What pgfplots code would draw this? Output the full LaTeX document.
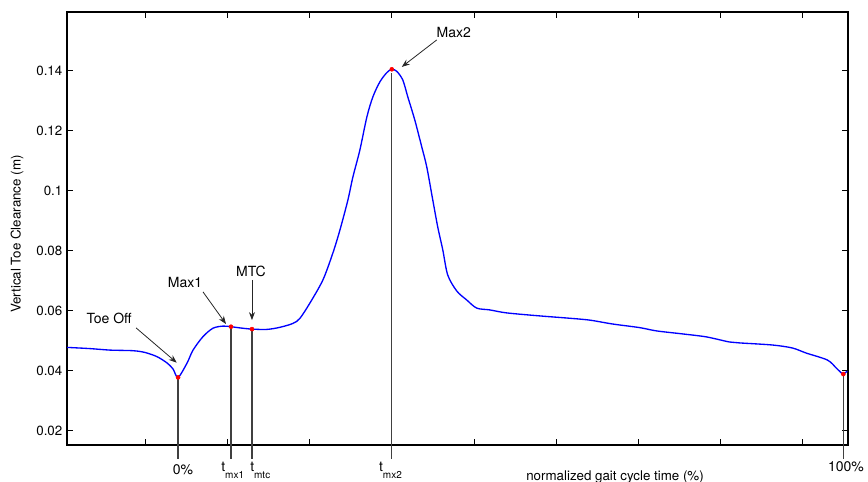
\documentclass[border=0pt]{standalone}
\usepackage{fontspec}
\setmainfont{TeX Gyre Heros}
\usepackage{pgfplots}
\pgfplotsset{compat=1.18}
\usetikzlibrary{arrows.meta}

\newcommand{\tsub}[1]{t\raisebox{-5pt}{\fontsize{7.5}{9}\selectfont #1}}

\begin{document}
\begin{tikzpicture}
\begin{axis}[
  scale only axis,
  width=585.75pt, height=324.75pt,
  xmin=1, xmax=191,
  ymin=0.01517, ymax=0.1595,
  clip=false,
  axis line style={black, line width=0.8pt},
  tick style={black, line width=0.6pt},
  tick align=inside,
  major tick length=4.5pt,
  xtick={20,40,...,180},
  xticklabels={},
  ytick={0.02,0.04,0.06,0.08,0.1,0.12,0.14},
  scaled y ticks=false,
  yticklabel style={/pgf/number format/fixed, /pgf/number format/precision=2,
    /pgf/number format/assume math mode=true, font=\fontsize{10}{12}\selectfont},
  label style={font=\fontsize{10}{12}\selectfont},
  ylabel={Vertical Toe Clearance (m)},
  ylabel style={at={(axis description cs:-0.064,0.487)}, anchor=center},
  xlabel={normalized gait cycle time (\%)},
  xlabel style={at={(axis description cs:0.7017,-0.074)}, anchor=center},
]
% guide lines down from the events
\addplot[black!75, line width=0.85pt] coordinates {(28.02,0.0377) (28.02,0.0105)};
\addplot[black!75, line width=0.85pt] coordinates {(40.90,0.0546) (40.90,0.0105)};
\addplot[black!75, line width=0.85pt] coordinates {(46.00,0.0538) (46.00,0.0105)};
\addplot[black!75, line width=0.85pt] coordinates {(80.02,0.1390) (80.02,0.0105)};
\addplot[black!75, line width=0.85pt] coordinates {(189.86,0.0388) (189.86,0.0105)};

% toe height
\addplot[blue, line width=1pt, smooth, tension=0.5] coordinates {
(1.05,0.0477) (6.63,0.0473) (11.49,0.0468) (17.08,0.0466) (20.0,0.0460)
(22.92,0.0446) (25.35,0.0425) (26.80,0.0405) (28.02,0.0377) (30.21,0.0425)
(31.66,0.0468) (34.09,0.0513) (36.52,0.0541) (38.95,0.0548) (40.90,0.0546)
(43.09,0.0542) (46.00,0.0538) (49.65,0.0537) (52.81,0.0544) (55.97,0.0557)
(57.67,0.0574) (60.10,0.0625) (63.26,0.0702) (65.69,0.0792) (67.39,0.0868)
(69.33,0.0968) (70.55,0.1045) (72.25,0.1135) (73.95,0.1245) (75.41,0.1312)
(77.11,0.1362) (78.81,0.1393) (80.02,0.1404) (81.24,0.1397) (82.70,0.1368)
(83.91,0.1312) (85.61,0.1235) (87.31,0.1145) (88.53,0.1078) (89.99,0.0968)
(91.20,0.0878) (92.42,0.0802) (93.63,0.0718) (95.82,0.0665) (98.25,0.0635)
(100.68,0.0608) (103.84,0.0602) (107.97,0.0592) (115.99,0.0582) (122.55,0.0575)
(128.14,0.0568) (133.73,0.0555) (140.29,0.0543) (144.42,0.0532) (150.74,0.0522)
(156.55,0.0512) (162.16,0.0495) (164.59,0.0492) (172.61,0.0485) (177.47,0.0475)
(180.87,0.0458) (185.97,0.0435) (188.16,0.0408) (189.37,0.0392) (189.86,0.0388)
(190.83,0.0398)
};

% events
\addplot[only marks, mark=*, mark size=1.5pt, red] coordinates {
(28.02,0.0377) (40.90,0.0546) (46.00,0.0538) (80.02,0.1404) (189.86,0.0388)};

% annotations
\begin{scope}[font=\fontsize{10.5}{12}\selectfont]
\node at (axis cs:11.25,0.0575) {Toe Off};
\node at (axis cs:29.72,0.0695) {Max1};
\node at (axis cs:45.76,0.0732) {MTC};
\node at (axis cs:95.09,0.1528) {Max2};
\node[anchor=base] at (axis cs:29.23,0.0055) {0\%};
\node[anchor=base west, inner sep=0pt] at (axis cs:38.47,0.0062) {\tsub{mx1}};
\node[anchor=base west, inner sep=0pt] at (axis cs:45.52,0.0062) {\tsub{mtc}};
\node[anchor=base west, inner sep=0pt] at (axis cs:76.86,0.0062) {\tsub{mx2}};
\node[anchor=base] at (axis cs:190.5,0.0062) {100\%};
\end{scope}
\begin{scope}[black!85, line width=0.6pt, -{Stealth[length=6pt,width=4.5pt]}]
\draw (axis cs:17.81,0.0542) -- (axis cs:27.70,0.0426);
\draw (axis cs:34.09,0.0662) -- (axis cs:39.68,0.0555);
\draw (axis cs:46.00,0.0702) -- (axis cs:46.00,0.0568);
\draw (axis cs:90.96,0.1502) -- (axis cs:82.45,0.1412);
\end{scope}
\end{axis}
\pgfresetboundingbox
\path (current axis.south west) ++(-50.25pt,-27.75pt) rectangle ([shift={(15pt,9pt)}]current axis.north east);
\end{tikzpicture}
\end{document}
